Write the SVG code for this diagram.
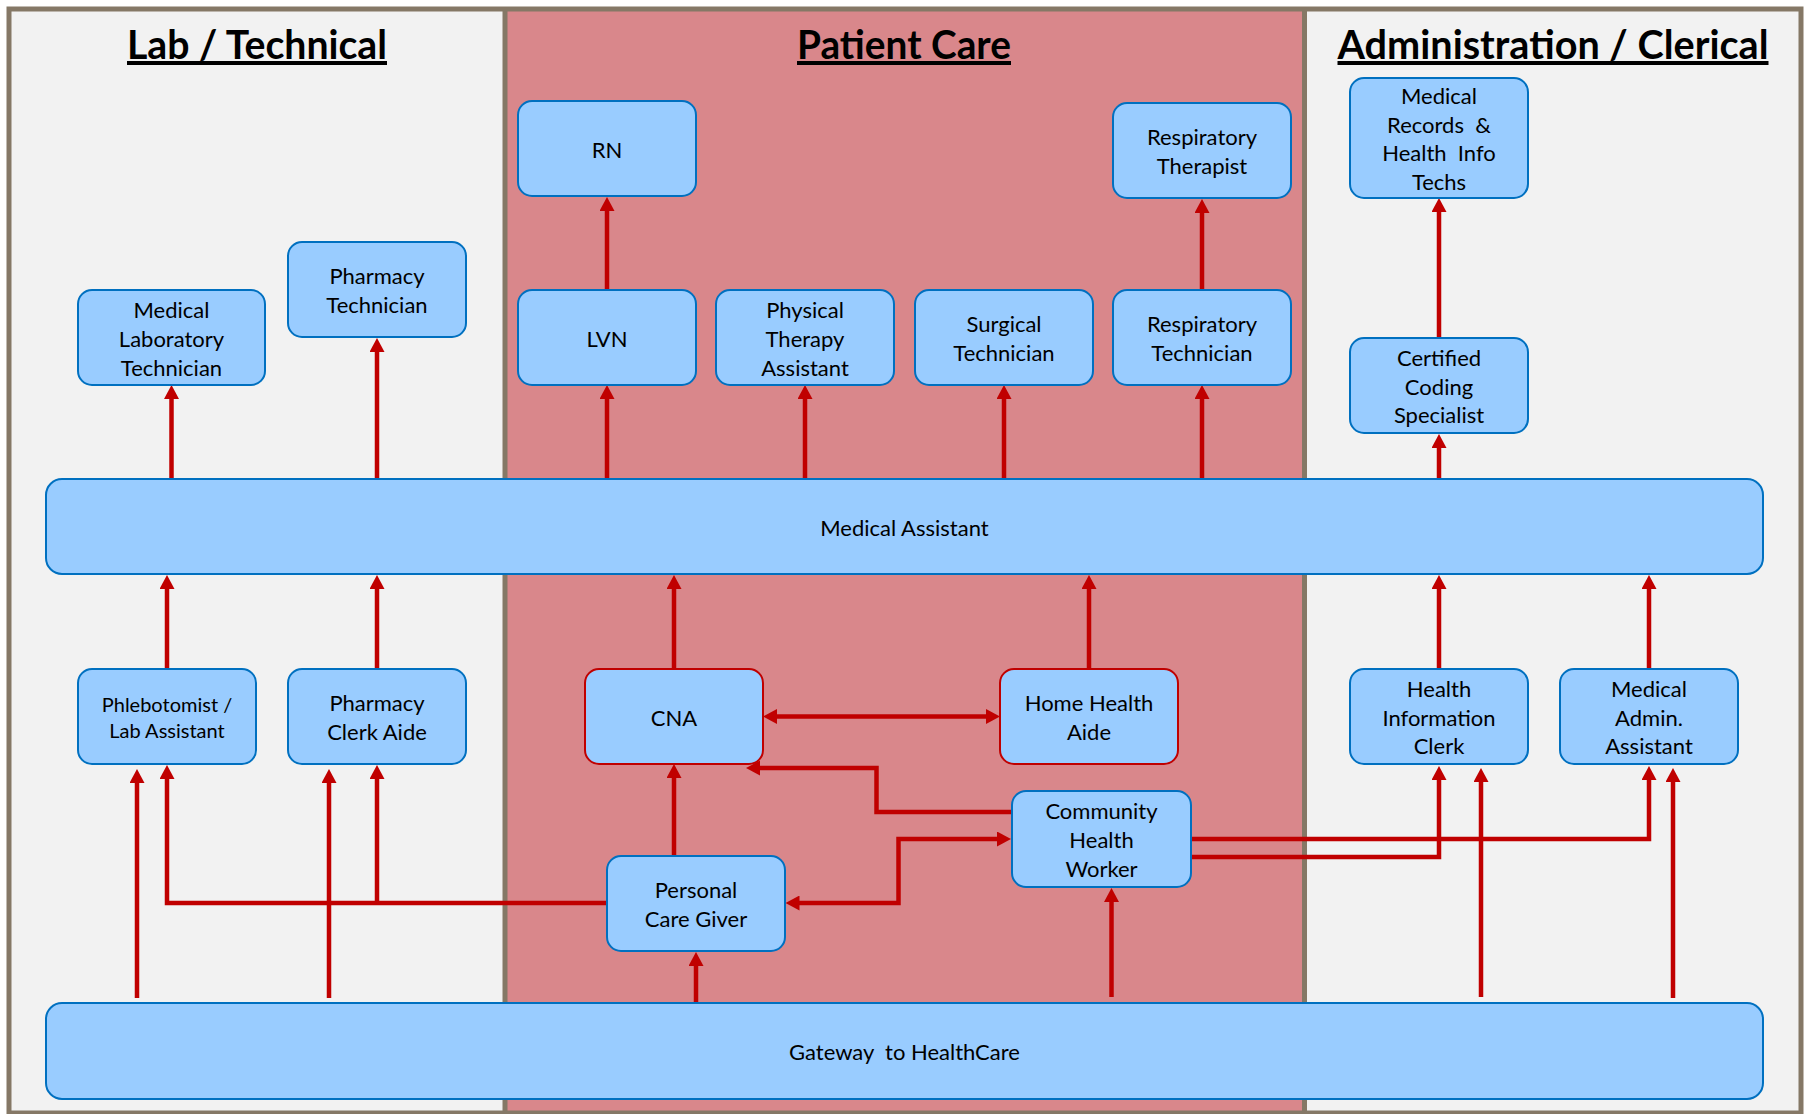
<svg xmlns="http://www.w3.org/2000/svg" width="1806" height="1114" viewBox="0 0 1806 1114">
<style>
.light{fill:#f2f2f2}
.pink{fill:#d9878b}
.div{fill:#857866}
.title{font-family:Lato,"Open Sans",sans-serif;font-weight:700;font-size:40px;text-anchor:middle;text-decoration:underline;fill:#000}
.node rect{fill:#99ccff;stroke:#0070c0;stroke-width:2}
.node.red rect{stroke:#c00000}
.node text{font-family:Lato,"Open Sans",sans-serif;font-size:22px;text-anchor:middle;fill:#000;transform:translate(0px,1.5px)}
.conn path{stroke:#c00000;stroke-width:4.5;fill:none;marker-end:url(#ah)}
.conn path.both{marker-start:url(#ah)}
</style>
<defs>
<marker id="ah" viewBox="0 0 14 15" refX="4" refY="7.5" markerWidth="14" markerHeight="15" markerUnits="userSpaceOnUse" orient="auto-start-reverse">
<path d="M0,0 L14,7.5 L0,15 z" fill="#c00000"/>
</marker>
</defs>
<rect x="0" y="0" width="1806" height="1114" fill="#ffffff"/>
<g id="panels">
<rect class="light" x="9" y="9" width="494" height="1105"/>
<rect class="pink" x="507" y="9" width="796" height="1105"/>
<rect class="light" x="1307" y="9" width="494" height="1105"/>
<rect class="div" x="502.5" y="9" width="5" height="1105"/>
<rect class="div" x="1302" y="9" width="5" height="1105"/>
<rect x="9" y="9" width="1792" height="1104" fill="none" stroke="#857866" stroke-width="5"/>
<text class="title" x="257" y="59" textLength="260" lengthAdjust="spacingAndGlyphs">Lab / Technical</text>
<text class="title" x="904" y="59" textLength="214" lengthAdjust="spacingAndGlyphs">Patient Care</text>
<text class="title" x="1553" y="59" textLength="431" lengthAdjust="spacingAndGlyphs">Administration / Clerical</text>
</g>
<g id="connectors" class="conn">
<path d="M607,290 V207"/>
<path d="M1202,290 V209"/>
<path d="M1439,338 V208"/>
<path d="M171.5,479 V395"/>
<path d="M377,479 V348"/>
<path d="M607,479 V395"/>
<path d="M805,479 V395"/>
<path d="M1004,479 V395"/>
<path d="M1202,479 V395"/>
<path d="M1439,479 V444"/>
<path d="M167,669 V585"/>
<path d="M377,669 V585"/>
<path d="M674,669 V585"/>
<path d="M1089,669 V585"/>
<path d="M1439,669 V585"/>
<path d="M1649,669 V585"/>
<path class="both" d="M773,716.5 H990"/>
<path d="M1012,812 H876.5 V768 H756"/>
<path class="both" d="M795.5,903 H898.5 V839 H1001"/>
<path d="M674,856 V774"/>
<path d="M607,903 H167 V775"/>
<path d="M377,903 V775"/>
<path d="M137,998 V779"/>
<path d="M329,998 V779"/>
<path d="M696,1003 V962"/>
<path d="M1111.5,997 V898"/>
<path d="M1481,997 V778"/>
<path d="M1673,998 V778"/>
<path d="M1191,857 H1439 V776"/>
<path d="M1191,839 H1649 V776"/>
</g>
<g id="rn" class="node"><rect x="518" y="101" width="178" height="95" rx="14"/><text x="607" y="156">RN</text></g>
<g id="lvn" class="node"><rect x="518" y="290" width="178" height="95" rx="14"/><text x="607" y="345">LVN</text></g>
<g id="pta" class="node"><rect x="716" y="290" width="178" height="95" rx="14"/><text><tspan x="805" y="316">Physical</tspan><tspan x="805" y="345">Therapy</tspan><tspan x="805" y="374">Assistant</tspan></text></g>
<g id="surgical" class="node"><rect x="915" y="290" width="178" height="95" rx="14"/><text><tspan x="1004" y="330.6">Surgical</tspan><tspan x="1004" y="359.4">Technician</tspan></text></g>
<g id="resptech" class="node"><rect x="1113" y="290" width="178" height="95" rx="14"/><text><tspan x="1202" y="330.6">Respiratory</tspan><tspan x="1202" y="359.4">Technician</tspan></text></g>
<g id="respther" class="node"><rect x="1113" y="103" width="178" height="95" rx="14"/><text><tspan x="1202" y="143.6">Respiratory</tspan><tspan x="1202" y="172.4">Therapist</tspan></text></g>
<g id="medlab" class="node"><rect x="78" y="290" width="187" height="95" rx="14"/><text><tspan x="171.5" y="316">Medical</tspan><tspan x="171.5" y="345">Laboratory</tspan><tspan x="171.5" y="374">Technician</tspan></text></g>
<g id="pharmtech" class="node"><rect x="288" y="242" width="178" height="95" rx="14"/><text><tspan x="377" y="282.6">Pharmacy</tspan><tspan x="377" y="311.4">Technician</tspan></text></g>
<g id="medrecords" class="node"><rect x="1350" y="78" width="178" height="120" rx="14"/><text xml:space="preserve"><tspan x="1439" y="102.3">Medical</tspan><tspan x="1439" y="131.1">Records  &amp;</tspan><tspan x="1439" y="159.9">Health  Info</tspan><tspan x="1439" y="188.7">Techs</tspan></text></g>
<g id="coding" class="node"><rect x="1350" y="338" width="178" height="95" rx="14"/><text><tspan x="1439" y="364.2">Certified</tspan><tspan x="1439" y="393">Coding</tspan><tspan x="1439" y="421.8">Specialist</tspan></text></g>
<g id="medassistant" class="node"><rect x="46" y="479" width="1717" height="95" rx="16"/><text x="904.5" y="534">Medical Assistant</text></g>
<g id="phlebotomist" class="node"><rect x="78" y="669" width="178" height="95" rx="14"/><text style="font-size:20px"><tspan x="167" y="710.5">Phlebotomist /</tspan><tspan x="167" y="736">Lab Assistant</tspan></text></g>
<g id="pharmclerk" class="node"><rect x="288" y="669" width="178" height="95" rx="14"/><text><tspan x="377" y="709.6">Pharmacy</tspan><tspan x="377" y="738.4">Clerk Aide</tspan></text></g>
<g id="cna" class="node red"><rect x="585" y="669" width="178" height="95" rx="14"/><text x="674" y="724">CNA</text></g>
<g id="hha" class="node red"><rect x="1000" y="669" width="178" height="95" rx="14"/><text><tspan x="1089" y="709.6">Home Health</tspan><tspan x="1089" y="738.4">Aide</tspan></text></g>
<g id="hic" class="node"><rect x="1350" y="669" width="178" height="95" rx="14"/><text><tspan x="1439" y="695.2">Health</tspan><tspan x="1439" y="724">Information</tspan><tspan x="1439" y="752.8">Clerk</tspan></text></g>
<g id="maa" class="node"><rect x="1560" y="669" width="178" height="95" rx="14"/><text><tspan x="1649" y="695.2">Medical</tspan><tspan x="1649" y="724">Admin.</tspan><tspan x="1649" y="752.8">Assistant</tspan></text></g>
<g id="chw" class="node"><rect x="1012" y="791" width="179" height="96" rx="14"/><text><tspan x="1101.5" y="817.7">Community</tspan><tspan x="1101.5" y="846.5">Health</tspan><tspan x="1101.5" y="875.3">Worker</tspan></text></g>
<g id="pcg" class="node"><rect x="607" y="856" width="178" height="95" rx="14"/><text><tspan x="696" y="896.6">Personal</tspan><tspan x="696" y="925.4">Care Giver</tspan></text></g>
<g id="gateway" class="node"><rect x="46" y="1003" width="1717" height="96" rx="16"/><text x="904.5" y="1058" xml:space="preserve">Gateway  to HealthCare</text></g>
</svg>
